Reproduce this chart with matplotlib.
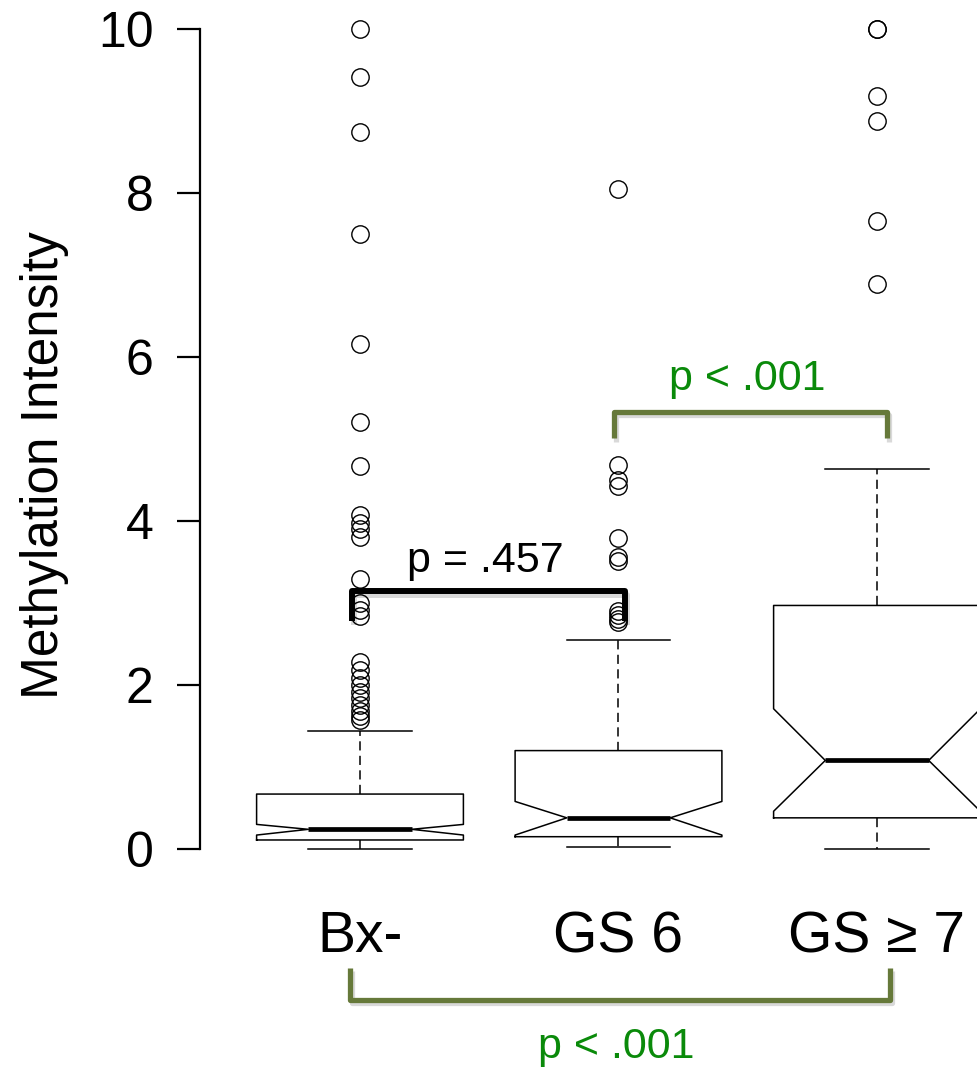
import matplotlib
matplotlib.use("Agg")
import matplotlib.pyplot as plt
import matplotlib.patheffects as pe

plt.rcParams['font.family'] = ['Liberation Sans', 'DejaVu Sans']

# ---- data ----
groups = ["Bx-", "GS 6", "GS \u2265 7"]
q1 = [0.11, 0.15, 0.38]
med = [0.24, 0.38, 1.08]
q3 = [0.67, 1.20, 2.97]
ci_lo = [0.17, 0.17, 0.46]
ci_hi = [0.30, 0.58, 1.71]
whis_lo = [0.0, 0.02, 0.0]
whis_hi = [1.44, 2.55, 4.63]
fliers_bx = [10.0, 9.41, 8.74, 7.50, 6.16, 5.21, 4.67, 4.07, 3.98, 3.90, 3.81,
             3.29, 3.00, 2.91, 2.84, 2.28, 2.18, 2.08, 2.00, 1.92, 1.84, 1.76,
             1.68, 1.62, 1.57]
fliers_gs6 = [8.05, 4.68, 4.50, 4.43, 3.79, 3.56, 3.51, 2.90, 2.85, 2.80, 2.77]
fliers_gs7 = [10.0, 10.0, 9.18, 8.88, 7.66, 6.89]
y_ticks = [0, 2, 4, 6, 8, 10]
p_labels = ["p = .457", "p < .001", "p < .001"]

fliers = [fliers_bx, fliers_gs6, fliers_gs7]
stats = []
for i in range(3):
    stats.append(dict(med=med[i], q1=q1[i], q3=q3[i], cilo=ci_lo[i],
                      cihi=ci_hi[i], whislo=whis_lo[i], whishi=whis_hi[i],
                      fliers=fliers[i], label=groups[i]))

fig = plt.figure(figsize=(9.78, 10.7), dpi=100)
ax = fig.add_axes([200 / 978, 200 / 1070, 778 / 978, 860 / 1070])

lw = 1.1
ax.bxp(stats, positions=[1, 2, 3], widths=0.8, shownotches=True,
       boxprops=dict(color='black', linewidth=lw),
       medianprops=dict(color='black', linewidth=3.4, solid_capstyle='butt'),
       whiskerprops=dict(color='black', linewidth=lw, linestyle=(0, (6, 3.5))),
       capprops=dict(color='black', linewidth=lw),
       flierprops=dict(marker='o', markerfacecolor='none', markeredgecolor='black',
                       markersize=12.5, markeredgewidth=1.0, linestyle='none'))

ax.set_xlim(1 - 160 / 258.5, 1 + 618 / 258.5)
ax.set_ylim((849 - 870) / 82, (849 - 10) / 82)

for s in ['top', 'right', 'bottom']:
    ax.spines[s].set_visible(False)
ax.spines['left'].set_bounds(0, 10)
ax.spines['left'].set_linewidth(1.6)
ax.set_yticks(y_ticks)
ax.set_yticklabels([str(t) for t in y_ticks])
ax.tick_params(axis='y', length=16.5, width=1.6, pad=17, labelsize=36)
ax.tick_params(axis='x', length=0, pad=29, labelsize=41)
ax.set_xticks([1, 2, 3])
ax.set_xticklabels(groups)
ax.set_ylabel("Methylation Intensity", fontsize=37)
ax.yaxis.set_label_coords(-0.168, 0.471)

shadow = [pe.SimpleLineShadow(offset=(1.5, -2.5), shadow_color='black', alpha=0.15),
          pe.Normal()]
olive = '#66793a'
green = '#0a8a0a'
ptxt = 31

# black bracket (Bx- vs GS 6)
ax.plot([0.969, 0.969, 2.025, 2.025], [2.78, 3.146, 3.146, 2.78], color='black',
        lw=4.3, solid_joinstyle='round', solid_capstyle='butt', clip_on=False,
        path_effects=shadow, zorder=5)
ax.text(1.486, 3.38, p_labels[0], fontsize=ptxt, ha='center', va='baseline',
        color='black')

# green bracket top (GS 6 vs GS >= 7)
ax.plot([1.983, 1.983, 3.039, 3.039], [5.01, 5.33, 5.33, 5.01], color=olive,
        lw=3.8, solid_joinstyle='round', solid_capstyle='butt', clip_on=False,
        path_effects=shadow, zorder=5)
ax.text(2.497, 5.60, p_labels[1], fontsize=ptxt, ha='center', va='baseline',
        color=green)

# green bracket bottom (Bx- vs GS >= 7)
ax.plot([0.961, 0.961, 3.05, 3.05], [-1.45, -1.84, -1.84, -1.45], color=olive,
        lw=3.8, solid_joinstyle='round', solid_capstyle='butt', clip_on=False,
        path_effects=shadow, zorder=5)
ax.text(1.99, -2.55, p_labels[2], fontsize=ptxt, ha='center', va='baseline',
        color=green, clip_on=False)

fig.savefig("out.png", dpi=100)
